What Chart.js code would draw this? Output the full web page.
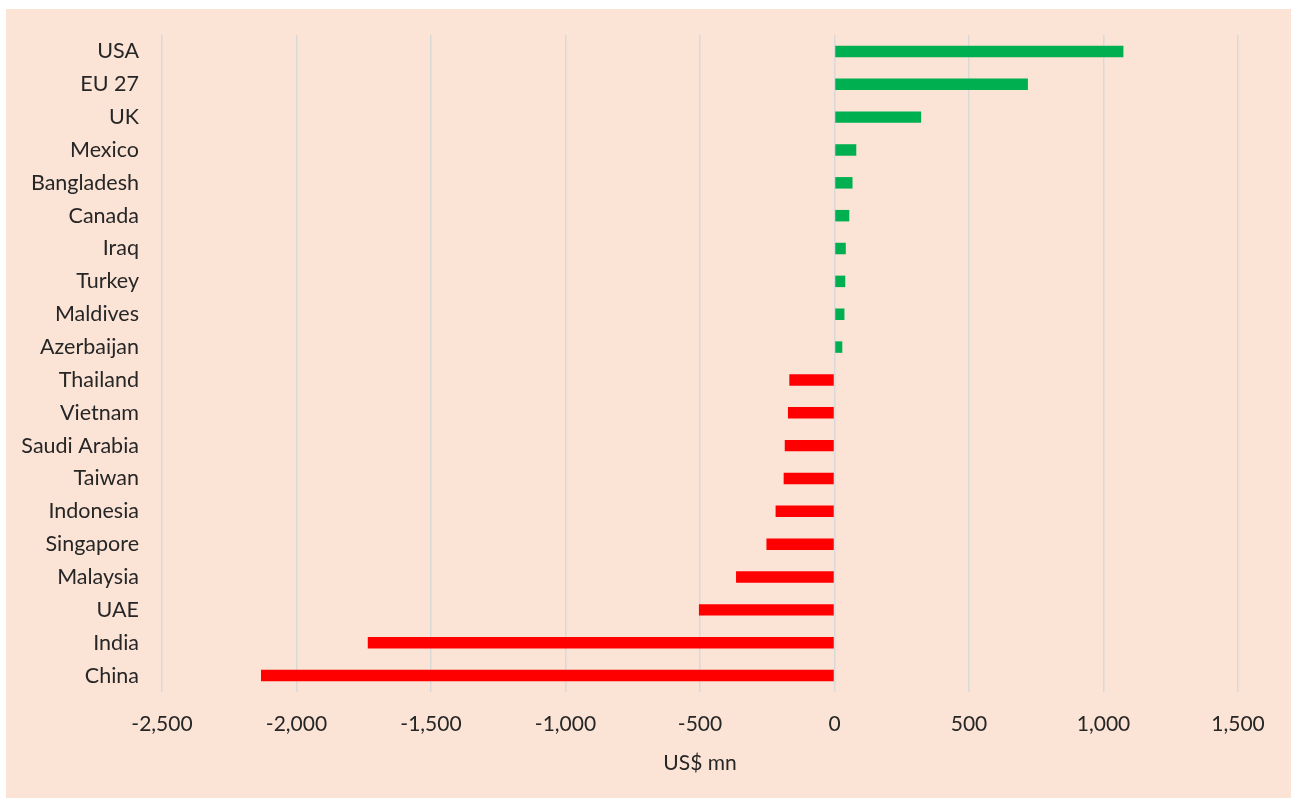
<!DOCTYPE html>
<html>
<head>
<meta charset="utf-8">
<script src="https://cdn.jsdelivr.net/npm/chart.js@4.4.8/dist/chart.umd.min.js"></script>
<style>
  html, body { margin: 0; padding: 0; background: #fff; }
  #wrap {
    position: absolute;
    left: 6px;
    top: 9px;
    width: 1285px;
    height: 789px;
    background: #fbe3d6;
  }
</style>
</head>
<body>
<div id="wrap"><canvas id="chart" width="1285" height="789"></canvas></div>
<script>
const countries = [
  "USA", "EU 27", "UK", "Mexico", "Bangladesh", "Canada", "Iraq", "Turkey",
  "Maldives", "Azerbaijan", "Thailand", "Vietnam", "Saudi Arabia", "Taiwan",
  "Indonesia", "Singapore", "Malaysia", "UAE", "India", "China"
];
const balance = [
  1074, 719, 322, 81, 67, 55, 42, 40, 37, 29,
  -168, -173, -185, -189, -219, -253, -366, -504, -1735, -2132
];
const xTicks = [-2500, -2000, -1500, -1000, -500, 0, 500, 1000, 1500];

const GREEN = "#00b050";
const RED = "#ff0000";
const GRID = "#d9d9d9";
const TEXT = "#262626";
const FONT = "Lato, 'Open Sans', sans-serif";

new Chart(document.getElementById("chart"), {
  type: "bar",
  data: {
    labels: countries,
    datasets: [
      {
        data: balance,
        backgroundColor: balance.map((v) => (v >= 0 ? GREEN : RED)),
        barPercentage: 0.35,
        categoryPercentage: 1,
      },
    ],
  },
  options: {
    indexAxis: "y",
    responsive: false,
    animation: false,
    layout: { padding: { top: 26, right: 53, left: 0, bottom: 0 } },
    plugins: {
      legend: { display: false },
      tooltip: { enabled: false },
    },
    scales: {
      x: {
        min: -2500,
        max: 1500,
        afterBuildTicks(scale) {
          scale.ticks = xTicks.map((v) => ({ value: v }));
        },
        afterFit(scale) {
          scale.height = 106;
        },
        grid: { color: GRID, lineWidth: 1.5, drawTicks: false },
        border: { display: false },
        ticks: {
          color: TEXT,
          padding: 20,
          font: { family: FONT, size: 21 },
          callback(v) {
            return Number(v).toLocaleString("en-US");
          },
        },
        title: {
          display: true,
          text: "US$ mn",
          color: TEXT,
          font: { family: FONT, size: 21 },
          padding: { top: 0, bottom: 22 },
        },
      },
      y: {
        afterFit(scale) {
          scale.width = 156;
          // category labels sit inside the rows, no extra room needed
          scale.paddingTop = 0;
          scale.paddingBottom = 0;
        },
        grid: { display: false, drawTicks: false },
        border: { display: false },
        ticks: {
          color: TEXT,
          padding: 23,
          autoSkip: false,
          font: { family: FONT, size: 21.5 },
        },
      },
    },
  },
});
</script>
</body>
</html>
